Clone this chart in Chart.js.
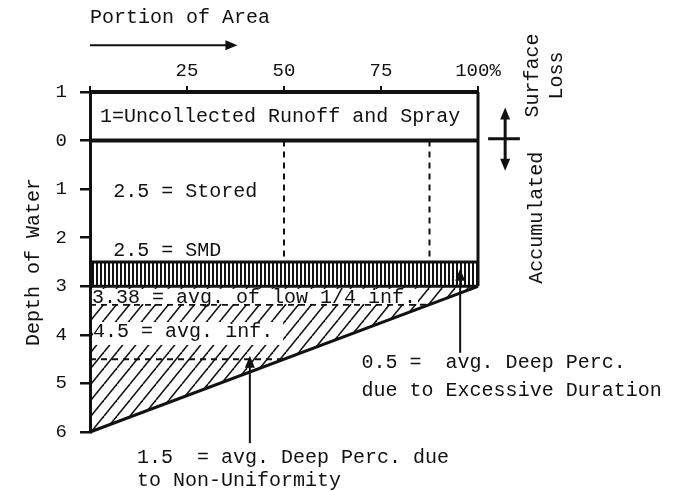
<!DOCTYPE html>
<html>
<head>
<meta charset="utf-8">
<script src="https://cdn.jsdelivr.net/npm/chart.js@4/dist/chart.umd.min.js"></script>
<style>
  html, body { margin: 0; padding: 0; background: #fff; }
  #wrap { width: 674px; height: 491px; }
</style>
</head>
<body>
<div id="wrap"><canvas id="chart" width="674" height="491"></canvas></div>
<script>
// x = portion of area (%), y = depth of water (negative = above ground)
const areaEnds = [0, 100];
const runoffTop = [-1, -1];
const groundLevel = [0, 0];
const smdLevel = [2.5, 2.5];
const durationLevel = [3, 3];
const infiltrated = [6, 3];
const fullArea = [100, 100];
const edgeDepth = [-1, 3];
const dividerPct = [50, 87.5];
const dividerDepth = [0, 2.5];
const avgDepths = [3.38, 4.5];
const avgEnds = [87.5, 50];

const storedDepth = 2.5;
const smd = 2.5;
const dpDuration = 0.5;
const dpNonUniform = 1.5;

const INK = '#111';
const MONO = '"Liberation Mono", "DejaVu Sans Mono", monospace';

const canvas = document.getElementById('chart');
const ctx = canvas.getContext('2d');

function pts(xs, ys) {
    return xs.map((x, i) => ({ x: x, y: ys[i] }));
}

// diagonal "////" hatching for deep percolation
function hatchPattern() {
    const c = document.createElement('canvas');
    c.width = 13; c.height = 16;
    const g = c.getContext('2d');
    g.strokeStyle = INK;
    g.lineWidth = 1.6;
    for (const off of [-13, 0, 13]) {
        g.beginPath();
        g.moveTo(off, 16);
        g.lineTo(off + 13, 0);
        g.stroke();
    }
    return ctx.createPattern(c, 'repeat');
}

// dense vertical bars for the excess-duration band
function stripePattern() {
    const c = document.createElement('canvas');
    c.width = 4; c.height = 4;
    const g = c.getContext('2d');
    g.fillStyle = INK;
    g.fillRect(0, 0, 2, 4);
    return ctx.createPattern(c, 'repeat');
}

function line(data, extra) {
    return Object.assign({
        data: data,
        borderColor: INK,
        borderWidth: 3,
        pointRadius: 0,
        fill: false,
        tension: 0,
        clip: false
    }, extra || {});
}

const datasets = [
    line(pts(areaEnds, smdLevel), { fill: 1, backgroundColor: stripePattern() }),
    line(pts(areaEnds, durationLevel)),
    line(pts(areaEnds, infiltrated), { fill: 1, backgroundColor: hatchPattern() }),
    line(pts(areaEnds, runoffTop), { borderWidth: 4 }),
    line(pts(areaEnds, groundLevel), { borderWidth: 4 }),
    line(pts(fullArea, edgeDepth))
];
dividerPct.forEach(p => {
    datasets.push(line(pts([p, p], dividerDepth), { borderWidth: 2, borderDash: [6, 5] }));
});
avgDepths.forEach((d, i) => {
    datasets.push(line(pts([0, avgEnds[i]], [d, d]), { borderWidth: 2, borderDash: [6, 5] }));
});

const notes = [
    { t: '1=Uncollected Runoff and Spray', x: 2.6, y: -0.5 },
    { t: storedDepth + ' = Stored', x: 6, y: 1.05 },
    { t: smd + ' = SMD', x: 6, y: 2.27 },
    { t: avgDepths[0] + ' = avg. of low 1/4 inf.', x: 0.5, y: 3.24, bg: [9, 6, 2] },
    { t: avgDepths[1] + ' = avg. inf.', x: 0.8, y: 3.94, bg: [10, 13, 10] },
    { t: dpDuration + ' =  avg. Deep Perc.', x: 70, y: 4.58 },
    { t: 'due to Excessive Duration', x: 70, y: 5.15 },
    { t: dpNonUniform + '  = avg. Deep Perc. due', x: 12.1, y: 6.52 },
    { t: 'to Non-Uniformity', x: 12.1, y: 7.01 }
];

function arrowHead(c, x, y, dir) {
    // dir: 'up' | 'down' | 'right'
    const L = 12, W = 5;
    c.beginPath();
    if (dir === 'up') { c.moveTo(x, y); c.lineTo(x - W, y + L); c.lineTo(x + W, y + L); }
    if (dir === 'down') { c.moveTo(x, y); c.lineTo(x - W, y - L); c.lineTo(x + W, y - L); }
    if (dir === 'right') { c.moveTo(x, y); c.lineTo(x - L, y - W); c.lineTo(x - L, y + W); }
    c.closePath();
    c.fill();
}

const notesPlugin = {
    id: 'notes',
    afterDatasetsDraw(chart) {
        const c = chart.ctx;
        const X = v => chart.scales.x.getPixelForValue(v);
        const Y = v => chart.scales.y.getPixelForValue(v);
        c.save();
        c.font = '20px ' + MONO;
        c.fillStyle = INK;
        c.strokeStyle = INK;
        c.textBaseline = 'middle';
        c.textAlign = 'left';

        notes.forEach(n => {
            const px = X(n.x), py = Y(n.y);
            if (n.bg) {
                const w = c.measureText(n.t).width;
                c.fillStyle = '#fff';
                c.fillRect(px, py - n.bg[0], w + n.bg[2], n.bg[0] + n.bg[1]);
                c.fillStyle = INK;
            }
            c.fillText(n.t, px, py);
        });

        // arrow under "Portion of Area"
        c.lineWidth = 2;
        c.beginPath();
        c.moveTo(X(0), Y(-1.96));
        c.lineTo(X(36), Y(-1.96));
        c.stroke();
        arrowHead(c, X(38), Y(-1.96), 'right');

        // pointer arrows
        c.lineWidth = 2;
        [[95.4, 4.37, 2.64], [41.2, 6.23, 4.43]].forEach(a => {
            c.beginPath();
            c.moveTo(X(a[0]), Y(a[1]));
            c.lineTo(X(a[0]), Y(a[2]) + 8);
            c.stroke();
            arrowHead(c, X(a[0]), Y(a[2]), 'up');
        });

        // double arrow at the ground line
        c.lineWidth = 3;
        c.beginPath();
        c.moveTo(X(107), Y(-0.68) + 8);
        c.lineTo(X(107), Y(0.62) - 8);
        c.moveTo(X(102.6), Y(-0.04));
        c.lineTo(X(110.8), Y(-0.04));
        c.stroke();
        arrowHead(c, X(107), Y(-0.68), 'up');
        arrowHead(c, X(107), Y(0.62), 'down');

        // rotated side labels
        c.textAlign = 'center';
        [['Surface', 114.2, -1.34], ['Loss', 120.4, -1.34], ['Accumulated', 115.2, 1.59]].forEach(s => {
            c.save();
            c.translate(X(s[1]), Y(s[2]));
            c.rotate(-Math.PI / 2);
            c.fillText(s[0], 0, 0);
            c.restore();
        });
        c.restore();
    }
};

new Chart(canvas, {
    type: 'line',
    data: { datasets: datasets },
    options: {
        responsive: false,
        animation: false,
        layout: { padding: { left: 0, top: 0, right: 196, bottom: 59 } },
        plugins: {
            legend: { display: false },
            tooltip: { enabled: false }
        },
        scales: {
            x: {
                type: 'linear',
                position: 'top',
                min: 0,
                max: 100,
                ticks: {
                    stepSize: 25,
                    autoSkip: false,
                    maxRotation: 0,
                    padding: 4,
                    color: INK,
                    font: { family: MONO, size: 19 },
                    callback: v => v === 0 ? '' : (v === 100 ? '100%' : v)
                },
                grid: { drawOnChartArea: false, drawTicks: true, tickLength: 6, lineWidth: 2, color: INK },
                border: { display: false },
                title: {
                    display: true,
                    text: 'Portion of Area',
                    align: 'start',
                    color: INK,
                    font: { family: MONO, size: 20 },
                    padding: { top: 6, bottom: 0 }
                },
                afterFit(scale) { scale.height = 92; }
            },
            y: {
                type: 'linear',
                reverse: true,
                min: -1,
                max: 6,
                ticks: {
                    stepSize: 1,
                    padding: 13,
                    color: INK,
                    font: { family: MONO, size: 19 },
                    callback: v => Math.abs(v)
                },
                grid: { drawOnChartArea: false, drawTicks: true, tickLength: 10, lineWidth: 2.5, color: INK },
                border: { display: true, width: 3, color: INK },
                title: {
                    display: true,
                    text: 'Depth of Water',
                    color: INK,
                    font: { family: MONO, size: 20 },
                    padding: { top: 22, bottom: 0 }
                },
                afterFit(scale) { scale.width = 90; }
            }
        }
    },
    plugins: [notesPlugin]
});
</script>
</body>
</html>
